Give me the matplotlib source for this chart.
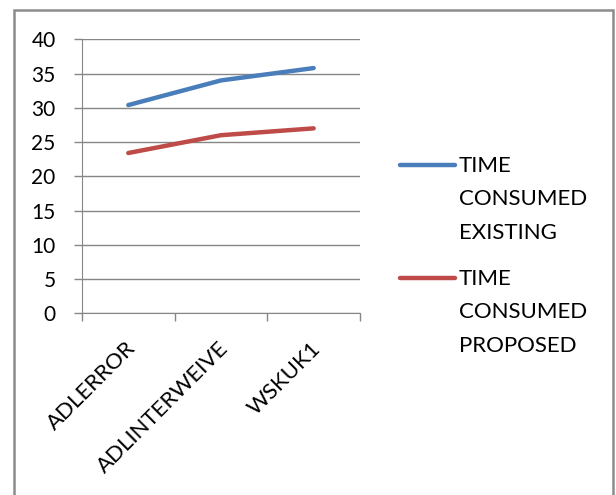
import matplotlib
matplotlib.use('Agg')
import matplotlib.pyplot as plt
import matplotlib.transforms as mtransforms
from matplotlib.lines import Line2D
from matplotlib.patches import Rectangle

plt.rcParams['font.family'] = ['Lato', 'DejaVu Sans']

categories = ['ADLERROR', 'ADLINTERWEIVE', 'WSKUK1']
existing = [30.4, 34.0, 35.8]
proposed = [23.4, 26.0, 27.0]
series_names = ['TIME\nCONSUMED\nEXISTING', 'TIME\nCONSUMED\nPROPOSED']
blue = '#4A7EBB'
red = '#BE4B48'
grey = '#868686'

fig = plt.figure(figsize=(6.16, 4.95), dpi=100)
ax = fig.add_axes([0.1331, 0.3671, 0.4513, 0.5535])

x = list(range(len(categories)))
ax.plot(x, existing, color=blue, lw=3.2, solid_capstyle='round')
ax.plot(x, proposed, color=red, lw=3.2, solid_capstyle='round')

ax.set_xlim(-0.5, len(categories) - 0.5)
ax.set_ylim(0, 40)
ax.set_yticks(range(0, 41, 5))
ax.yaxis.grid(True, color=grey, lw=1)
ax.set_axisbelow(True)

# category labels sit between boundary ticks
ax.set_xticks(x)
ax.set_xticklabels(categories, rotation=45, ha='right', va='top',
                   rotation_mode='anchor', fontsize=16)
ax.tick_params(axis='x', length=0, pad=18)
shift = mtransforms.ScaledTranslation(-3 / 100, 0, fig.dpi_scale_trans)
for lab in ax.get_xticklabels():
    lab.set_transform(lab.get_transform() + shift)
ax.set_xticks([i - 0.5 for i in range(len(categories) + 1)], minor=True)
ax.tick_params(axis='x', which='minor', length=6, color=grey, width=1)
ax.tick_params(axis='y', length=6, color=grey, width=1, labelsize=15, pad=13)

for side in ['top', 'right']:
    ax.spines[side].set_visible(False)
ax.spines['left'].set_color(grey)
ax.spines['bottom'].set_color(grey)

# legend drawn by hand so the handle lines up with the first text line
W, H = 616, 495
for name, color, ypx in [(series_names[0], blue, 165), (series_names[1], red, 278)]:
    fig.add_artist(Line2D([400 / W, 455 / W], [1 - ypx / H, 1 - ypx / H],
                          color=color, lw=3.2, solid_capstyle='round'))
    fig.text(459 / W, 1 - (ypx - 9) / H, name, fontsize=16, va='top',
             ha='left', linespacing=1.83)

# chart frame
fig.add_artist(Rectangle((14 / W, -0.05), (613 - 14) / W, 1.05 - 10 / H,
                         transform=fig.transFigure, fill=False,
                         edgecolor='#8c8c8c', lw=1.8))

fig.savefig('out.png', dpi=100)
